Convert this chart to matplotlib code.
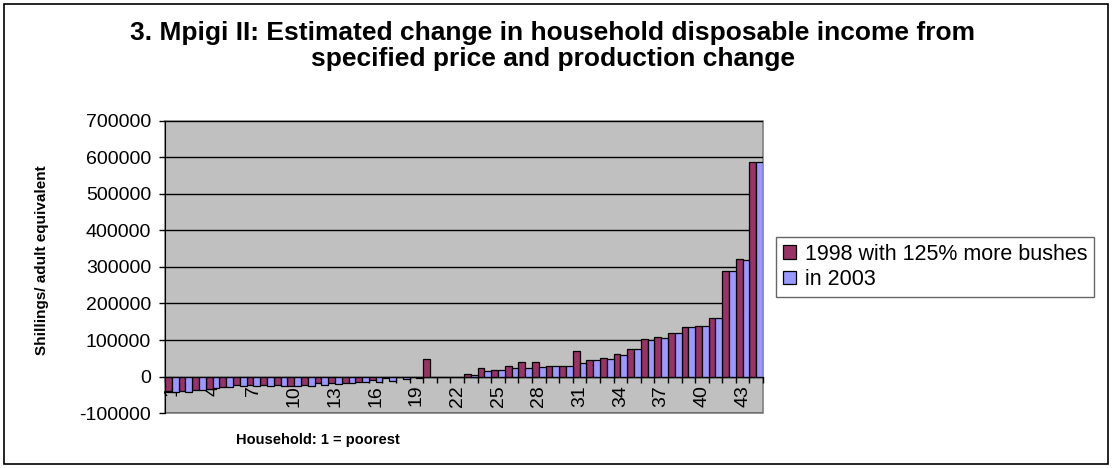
import matplotlib.pyplot as plt
import matplotlib.patches as mpatches
import numpy as np

households = np.arange(1, 45)

# change in income, shillings per adult equivalent
with_more_bushes = [
    -41000, -41000, -37000, -34000, -28000, -22000, -22000, -22000, -22000, -25000,
    -22000, -18000, -18000, -18000, -14000, -10000, -5000, -2000, -1000, 47000,
    0, 0, 6000, 23000, 18000, 29000, 39000, 39000, 30000, 30000,
    69000, 44000, 50000, 61000, 76000, 102000, 109000, 120000, 135000, 137000,
    159000, 289000, 321000, 588000,
]
in_2003 = [
    -43000, -43000, -37000, -32000, -28000, -25000, -25000, -25000, -25000, -25000,
    -25000, -22000, -20000, -18000, -14000, -15000, -12000, -8000, -4000, 0,
    0, 0, 4000, 14000, 18000, 22000, 22000, 27000, 30000, 30000,
    37000, 44000, 48000, 60000, 76000, 101000, 105000, 120000, 135000, 137000,
    159000, 288000, 318000, 588000,
]
series_names = ['1998 with 125% more bushes', 'in 2003']
label_households = households[::3]

plt.rcParams['font.family'] = ['Liberation Sans', 'DejaVu Sans']
plt.rcParams['axes.unicode_minus'] = False

fig = plt.figure(figsize=(11.12, 4.68), dpi=100)
ax = fig.add_axes([0.1484, 0.1175, 0.5378, 0.624])

w = 0.5
ax.bar(households - w / 2, with_more_bushes, width=w, color='#993366',
       edgecolor='black', linewidth=0.9, label=series_names[0], zorder=3)
ax.bar(households + w / 2, in_2003, width=w, color='#9999FF',
       edgecolor='black', linewidth=0.9, label=series_names[1], zorder=3)

ax.set_xlim(0.5, 44.5)
ax.set_ylim(-100000, 700000)
ax.set_yticks(np.arange(-100000, 700001, 100000))
ax.yaxis.grid(True, color='black', linewidth=1)
ax.set_axisbelow(True)
ax.set_facecolor('#C0C0C0')
ax.patch.set_edgecolor('#808080')
ax.patch.set_linewidth(1.2)

for side in ['top', 'right']:
    ax.spines[side].set_visible(False)
ax.spines['left'].set_color('black')
ax.spines['bottom'].set_position(('data', 0))
ax.spines['bottom'].set_color('black')
ax.spines['bottom'].set_zorder(4)

# tick marks on category boundaries, labels on every third household
ax.set_xticks(np.arange(0.5, 45, 1))
ax.set_xticklabels([])
ax.set_xticks(label_households, minor=True)
ax.set_xticklabels([str(h) for h in label_households], minor=True, rotation=90,
                   fontsize=14, va='top')
ax.tick_params(axis='x', which='major', direction='out', length=4, width=1)
ax.tick_params(axis='x', which='minor', length=0, pad=6)
ax.tick_params(axis='y', direction='out', length=4, width=1, labelsize=14, pad=6)

fig.text(0.2862, 0.06, 'Household: 1 = poorest', ha='center', va='center',
         fontsize=10.5, fontweight='bold')
fig.text(0.038, 0.444, 'Shillings/ adult equivalent', ha='center', va='center',
         rotation=90, fontsize=11, fontweight='bold')
fig.text(0.497, 0.902, '3. Mpigi II: Estimated change in household disposable income from\n'
         'specified price and production change', ha='center', va='center',
         fontsize=19, fontweight='bold', linespacing=1.1)

leg = ax.legend(loc='center left', bbox_to_anchor=(1.022, 0.5), frameon=True,
                fancybox=False, edgecolor='#404040', fontsize=15.5,
                handlelength=0.6, handleheight=0.6, handletextpad=0.45,
                borderpad=0.3, labelspacing=0.2, borderaxespad=0)
leg.get_frame().set_linewidth(1)

fig.patches.append(mpatches.Rectangle((0.004, 0.008), 0.992, 0.984, transform=fig.transFigure,
                                      fill=False, edgecolor='black', linewidth=1.2))

fig.savefig('out.png', dpi=100)
